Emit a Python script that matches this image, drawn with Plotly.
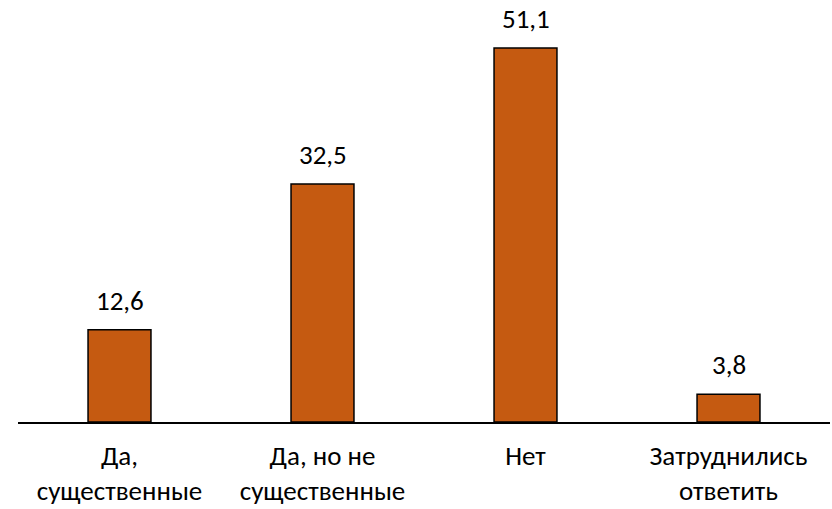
import plotly.graph_objects as go

categories = ["Да,<br>существенные", "Да, но не<br>существенные", "Нет", "Затруднились<br>ответить"]
values = [12.6, 32.5, 51.1, 3.8]
labels = ["12,6", "32,5", "51,1", "3,8"]

FONT = "Calibri, Carlito, Lato, sans-serif"

fig = go.Figure()
fig.add_trace(go.Bar(
    x=categories, y=values,
    marker=dict(color="#C55A11", line=dict(color="black", width=1.5)),
    width=0.31,
))
for c, v, t in zip(categories, values, labels):
    fig.add_annotation(x=c, y=v, text=t, showarrow=False, yanchor="bottom",
                       yshift=11, font=dict(family=FONT, size=27, color="black"))

fig.update_layout(
    width=832, height=509,
    margin=dict(l=18, r=2, t=12, b=87),
    plot_bgcolor="white", paper_bgcolor="white",
    showlegend=False,
    font=dict(family=FONT, size=27, color="black"),
)
fig.update_xaxes(showline=True, linecolor="black", linewidth=1.5, ticks="",
                 tickfont=dict(family=FONT, size=27, color="black"),
                 ticklabelstandoff=9, automargin=False)
fig.update_yaxes(range=[0, 56], visible=False, showgrid=False, zeroline=False,
                 automargin=False)

fig.write_html("out.html", config={"displayModeBar": False},
               post_script="document.body.style.margin='0';")
